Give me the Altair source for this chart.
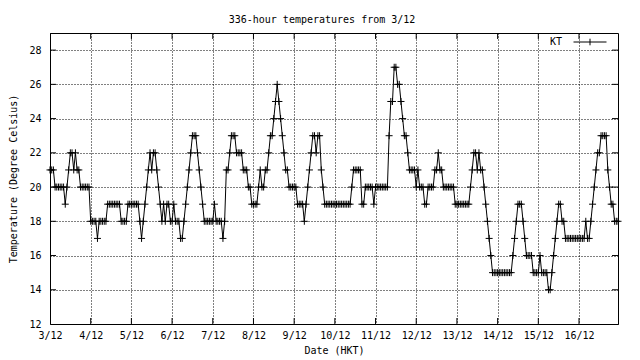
import altair as alt
import pandas as pd

# ---- data (hourly temperatures at KT) ----
dates = ["3/12", "4/12", "5/12", "6/12", "7/12", "8/12", "9/12",
         "10/12", "11/12", "12/12", "13/12", "14/12", "15/12", "16/12"]
y_ticks = [12, 14, 16, 18, 20, 22, 24, 26, 28]

day_03 = [21, 21, 21, 20, 20, 20, 20, 20, 20, 19, 20, 21, 22, 22, 21, 22, 21, 21, 20, 20, 20, 20, 20, 20]
day_04 = [18, 18, 18, 18, 17, 18, 18, 18, 18, 18, 19, 19, 19, 19, 19, 19, 19, 19, 18, 18, 18, 18, 19, 19]
day_05 = [19, 19, 19, 19, 19, 18, 17, 18, 19, 20, 21, 22, 21, 22, 22, 21, 20, 19, 18, 19, 18, 19, 19, 18]
day_06 = [18, 19, 18, 18, 18, 17, 17, 18, 19, 20, 21, 22, 23, 23, 23, 22, 21, 20, 19, 18, 18, 18, 18, 18]
day_07 = [18, 19, 18, 18, 18, 18, 17, 18, 21, 21, 22, 23, 23, 23, 22, 22, 22, 22, 21, 21, 21, 20, 20, 19]
day_08 = [19, 19, 19, 20, 21, 20, 20, 21, 21, 22, 23, 23, 24, 25, 26, 25, 24, 23, 22, 21, 21, 20, 20, 20]
day_09 = [20, 20, 19, 19, 19, 19, 18, 19, 20, 21, 22, 23, 23, 22, 23, 23, 21, 20, 19, 19, 19, 19, 19, 19]
day_10 = [19, 19, 19, 19, 19, 19, 19, 19, 19, 19, 20, 21, 21, 21, 21, 21, 19, 19, 20, 20, 20, 20, 20, 19]
day_11 = [20, 20, 20, 20, 20, 20, 20, 20, 23, 25, 25, 27, 27, 26, 26, 25, 24, 23, 23, 22, 21, 21, 21, 21]
day_12 = [20, 21, 20, 20, 20, 19, 19, 20, 20, 20, 20, 21, 21, 22, 21, 21, 20, 20, 20, 20, 20, 20, 20, 19]
day_13 = [19, 19, 19, 19, 19, 19, 19, 19, 20, 21, 22, 22, 21, 22, 21, 21, 20, 19, 18, 17, 16, 15, 15, 15]
day_14 = [15, 15, 15, 15, 15, 15, 15, 15, 15, 16, 17, 18, 19, 19, 19, 18, 17, 16, 16, 16, 16, 15, 15, 15]
day_15 = [15, 16, 15, 15, 15, 15, 14, 14, 15, 16, 17, 18, 19, 19, 18, 18, 17, 17, 17, 17, 17, 17, 17, 17]
day_16 = [17, 17, 17, 17, 18, 17, 17, 18, 19, 20, 21, 22, 22, 23, 23, 23, 23, 21, 20, 19, 19, 18, 18, 18]

days = [day_03, day_04, day_05, day_06, day_07, day_08, day_09,
        day_10, day_11, day_12, day_13, day_14, day_15, day_16]
temps = [t for d in days for t in d]
hours = list(range(len(temps)))
df = pd.DataFrame({"hour": hours, "temp": temps, "station": ["KT"] * len(temps)})

x_tick_hours = [24 * i for i in range(len(dates))]
label_expr = "[" + ",".join("'%s'" % d for d in dates) + "][round(datum.value / 24)]"

FONT = "DejaVu Sans Mono"
HMAX = len(temps) - 1

xscale = alt.Scale(domain=[0, HMAX], nice=False, zero=False)
yscale = alt.Scale(domain=[12, 29], nice=False, zero=False)

x_axis = alt.Axis(values=x_tick_hours, labelExpr=label_expr,
                  title="Date (HKT)", grid=True, gridDash=[1, 2],
                  gridColor="black", gridOpacity=1, gridWidth=1,
                  ticks=False, tickSize=0, domain=False,
                  labelFont=FONT, labelFontSize=10, labelColor="black",
                  labelPadding=6, labelFlush=False, labelOverlap=False,
                  titleFont=FONT, titleFontSize=10, titleFontWeight="normal",
                  titleColor="black", titlePadding=5)
y_axis = alt.Axis(values=y_ticks,
                  title="Temperature (Degree Celsius)",
                  grid=True, gridDash=[1, 2], gridColor="black",
                  gridOpacity=1, gridWidth=1,
                  ticks=False, tickSize=0, domain=False,
                  labelFont=FONT, labelFontSize=10, labelColor="black",
                  labelPadding=9, labelFlush=False, labelOverlap=False,
                  titleFont=FONT, titleFontSize=10, titleFontWeight="normal",
                  titleColor="black", titlePadding=10)

line = alt.Chart(df).mark_line(color="black", strokeWidth=1).encode(
    x=alt.X("hour:Q", scale=xscale, axis=x_axis),
    y=alt.Y("temp:Q", scale=yscale, axis=y_axis),
)

points = alt.Chart(df).mark_point(
    shape="M-1,0L1,0M0,-1L0,1", size=49, filled=False, strokeWidth=1, opacity=1
).encode(
    x=alt.X("hour:Q", scale=xscale, axis=x_axis),
    y=alt.Y("temp:Q", scale=yscale, axis=y_axis),
    color=alt.Color("station:N", scale=alt.Scale(domain=["KT"], range=["black"]),
                    legend=alt.Legend(title="KT", titleOrient="left",
                                      titleBaseline="middle",
                                      labelExpr="''", orient="none",
                                      legendX=500, legendY=4,
                                      symbolType="M-5,0L5,0M0,-1L0,1",
                                      symbolSize=43.56, symbolStrokeWidth=1,
                                      symbolStrokeColor="black",
                                      symbolFillColor="transparent",
                                      titleFont=FONT, titleFontSize=10,
                                      titleFontWeight="normal", titleColor="black",
                                      titlePadding=22, padding=0))
)

# inward tick marks on all four borders (gnuplot style)
xt = pd.DataFrame({"hour": x_tick_hours})
yt = pd.DataFrame({"temp": y_ticks[1:]})


def vtick(yval):
    return alt.Chart(xt).mark_tick(orient="vertical", size=12, thickness=1,
                                   color="black", clip=True, opacity=1).encode(
        x=alt.X("hour:Q", scale=xscale, axis=x_axis),
        y=alt.YDatum(yval, scale=yscale, axis=y_axis))


def htick(xval):
    return alt.Chart(yt).mark_tick(orient="horizontal", size=12, thickness=1,
                                   color="black", clip=True, opacity=1).encode(
        y=alt.Y("temp:Q", scale=yscale, axis=y_axis),
        x=alt.XDatum(xval, scale=xscale, axis=x_axis))


chart = alt.layer(line, vtick(12), vtick(29), htick(0), htick(HMAX), points).properties(
    width=568, height=291,
    padding={"left": 42, "top": 25, "right": 14, "bottom": 36},
    autosize=alt.AutoSizeParams(type="none"),
    title=alt.TitleParams("336-hour temperatures from 3/12", font=FONT, fontSize=10,
                          fontWeight="normal", color="black", anchor="middle",
                          offset=8, dx=-12),
    background="white",
).configure_view(stroke="black", strokeWidth=1)

chart.save("out.html", embed_options={"renderer": "svg", "actions": False})
